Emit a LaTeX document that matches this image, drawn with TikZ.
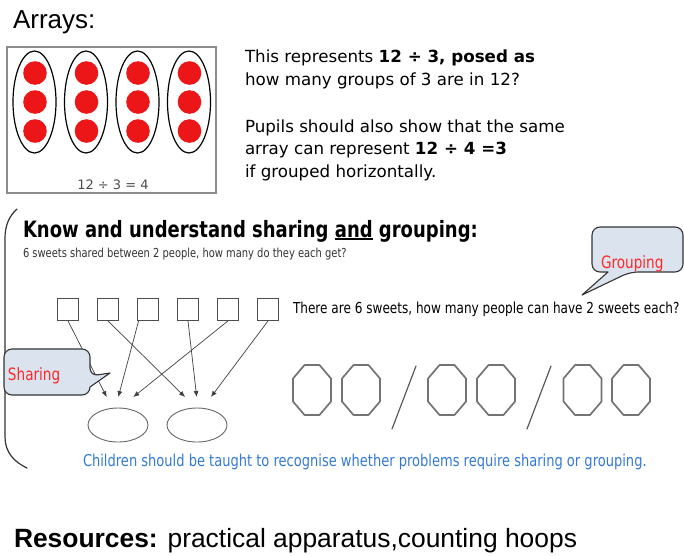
\documentclass[tikz,border=0pt]{standalone}
\usepackage{fontspec}
\setmainfont{Liberation Sans}
\newfontfamily\comicfont{DejaVu Sans}
\newfontfamily\comicnarrow[FakeStretch=0.8]{DejaVu Sans}
\usetikzlibrary{arrows.meta,shapes.geometric}
\definecolor{dotred}{RGB}{236,22,24}
\definecolor{calloutfill}{RGB}{218,227,238}
\definecolor{hintblue}{RGB}{52,122,212}
\definecolor{labelred}{RGB}{255,40,40}
\newcommand\ulword[1]{\setbox0\hbox{#1}\rlap{\rule[-3.2pt]{\wd0}{2pt}}#1}
\tikzset{
  txt/.style={anchor=base west,inner sep=0pt,outer sep=0pt},
  sweet/.style={draw=black!70,line width=0.8pt,minimum width=21pt,minimum height=22pt,inner sep=0pt},
  hoop/.style={draw=black!60,line width=0.9pt,ellipse,minimum width=60pt,minimum height=34pt,inner sep=0pt},
  share/.style={-{Latex[length=6pt,width=5pt]},draw=black!75,line width=0.7pt},
  callout/.style={draw=black!80,fill=calloutfill,line width=1.1pt,line join=round},
  octa/.style={draw=black!55,line width=1.7pt,line join=round},
}
\begin{document}
\begin{tikzpicture}[x=1pt,y=-1pt,line cap=round]
  \useasboundingbox (0,0) rectangle (684,555);
  \node[txt] (arrays) at (13,28) {\fontsize{26}{30}\selectfont Arrays:};
  \draw[black!45,line width=1.5pt] (7,47) rectangle (216,193);
  \foreach \c in {0,...,3} {
    \draw[line width=1.2pt] (34.5+51.5*\c,102) ellipse (21.5 and 51);
    \foreach \r in {0,1,2}
      \fill[dotred] (35+51.5*\c,73+29*\r) circle (11.8);
  }
  \node[anchor=base,inner sep=0pt,text=black!70] (sum) at (113,189)
    {\comicfont\fontsize{13}{14}\selectfont 12 ÷ 3 = 4};
  \node[txt] (line1) at (245,62) {\comicfont\fontsize{16.7}{20}\selectfont This represents \textbf{12 ÷ 3, posed as}};
  \node[txt] (line2) at (245,85) {\comicfont\fontsize{16.7}{20}\selectfont how many groups of 3 are in 12?};
  \node[txt] (line3) at (245,132) {\comicfont\fontsize{16.7}{20}\selectfont Pupils should also show that the same};
  \node[txt] (line4) at (245,154) {\comicfont\fontsize{16.7}{20}\selectfont array can represent \textbf{12 ÷ 4 =3}};
  \node[txt] (line5) at (245,177) {\comicfont\fontsize{16.7}{20}\selectfont if grouped horizontally.};
  \draw[black!80,line width=1.2pt] (17,209) .. controls (9,216) and (5,226) .. (5,238)
    -- (5,437) .. controls (5,452) and (14,462) .. (27,468);
  \node[txt] (title) at (23,237)
    {\comicnarrow\fontsize{22.5}{26}\selectfont\bfseries Know and understand sharing \ulword{and} grouping:};
  \node[txt,text=black!80] (question) at (23,257)
    {\comicnarrow\fontsize{12.4}{14}\selectfont 6 sweets shared between 2 people, how many do they each get?};
  \foreach \i in {1,...,6}
    \node[sweet] (s\i) at (28+40*\i,309.5) {};
  \coordinate (a1) at (106.7,397);
  \coordinate (a2) at (118.3,397);
  \coordinate (a3) at (133.3,397);
  \coordinate (b1) at (185,397);
  \coordinate (b2) at (196.7,397);
  \coordinate (b3) at (211,397);
  \draw[share] (s1.south) -- (a1);
  \draw[share] (s2.south) -- (b1);
  \draw[share] ([xshift=1.5pt]s3.south west) -- (a2);
  \draw[share] (s4.south) -- (b2);
  \draw[share] (s5.south) -- (a3);
  \draw[share] (s6.south) -- (b3);
  \node[hoop] (h1) at (118,425) {};
  \node[hoop] (h2) at (197,425) {};
  \draw[callout] (4,372) [rounded corners=8] -- (4,349) -- (90,349) -- (90,376)
    [sharp corners] -- (110,373) -- (90,387) [rounded corners=8] -- (90,395) -- (4,395) -- cycle;
  \node[txt,text=labelred] (sharing) at (8,380) {\comicnarrow\fontsize{17}{20}\selectfont Sharing};
  \node[txt] (grouptext) at (293,313)
    {\comicnarrow\fontsize{15.1}{18}\selectfont There are 6 sweets, how many people can have 2 sweets each?};
  \draw[callout] (640,227) [rounded corners=8] -- (683,227) -- (683,272) -- (630,272)
    [sharp corners] -- (582,295) -- (608,272) [rounded corners=8] -- (592,272) -- (592,227) -- cycle;
  \node[txt,text=labelred] (grouping) at (601,268) {\comicnarrow\fontsize{17}{20}\selectfont Grouping};
  \foreach \ox in {312,361,447,496,582.5,631}
    \draw[octa,shift={(\ox,390)}] (-7.5,-25) -- (7.5,-25) -- (19,-11.5) -- (19,11.5)
      -- (7.5,25) -- (-7.5,25) -- (-19,11.5) -- (-19,-11.5) -- cycle;
  \draw[black!65,line width=1.2pt] (416,366) -- (392,429);
  \draw[black!65,line width=1.2pt] (551,366) -- (527,429);
  \node[txt,text=hintblue] (hint) at (83,466)
    {\comicnarrow\fontsize{16.3}{18}\selectfont Children should be taught to recognise whether problems require sharing or grouping.};
  \node[txt] (resources) at (14,547)
    {\fontsize{26.4}{30}\selectfont\textbf{Resources:} practical apparatus,counting hoops};
\end{tikzpicture}
\end{document}
